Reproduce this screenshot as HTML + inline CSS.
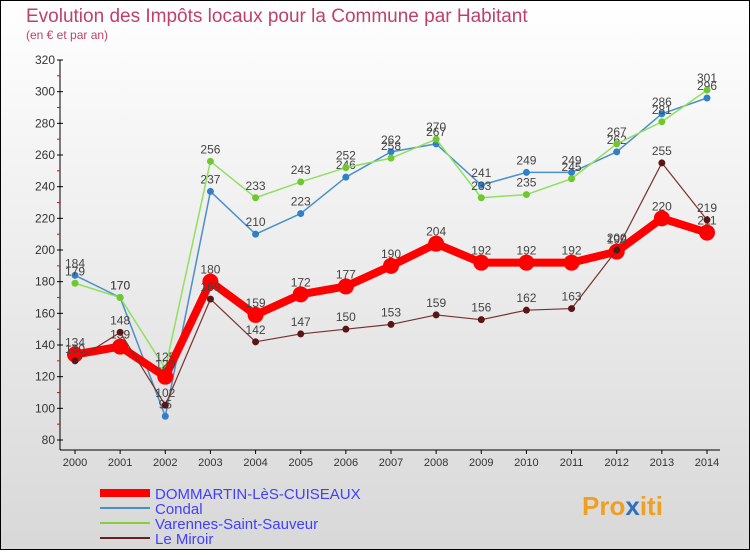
<!DOCTYPE html>
<html><head><meta charset="utf-8"><style>
body{margin:0;width:750px;height:550px;overflow:hidden;font-family:"Liberation Sans",sans-serif}
svg text{font-family:"Liberation Sans",sans-serif}
</style></head><body>
<svg id="c" width="750" height="550" xmlns="http://www.w3.org/2000/svg">
<defs><linearGradient id="bg" x1="0" y1="0" x2="0" y2="1"><stop offset="0" stop-color="#ffffff"/><stop offset="1" stop-color="#d8d8d8"/></linearGradient></defs>
<rect x="0.5" y="0.5" width="749" height="549" fill="url(#bg)" stroke="#000"/>
<text x="26" y="22" font-size="19" fill="#c0406a">Evolution des Impôts locaux pour la Commune par Habitant</text>
<text x="26" y="39" font-size="12" fill="#c0406a">(en € et par an)</text>
<g id="axes"></g><g id="series"></g>
<g>
<line x1="100" y1="493" x2="150" y2="493" stroke="#f00" stroke-width="8"/>
<text x="155" y="499" font-size="15" fill="#4040ff">DOMMARTIN-LèS-CUISEAUX</text>
<line x1="100" y1="508" x2="150" y2="508" stroke="#4a90c8" stroke-width="2"/>
<text x="155" y="514" font-size="15" fill="#4040ff">Condal</text>
<line x1="100" y1="523" x2="150" y2="523" stroke="#80d040" stroke-width="2"/>
<text x="155" y="529" font-size="15" fill="#4040ff">Varennes-Saint-Sauveur</text>
<line x1="100" y1="538" x2="150" y2="538" stroke="#6a2020" stroke-width="2"/>
<text x="155" y="544" font-size="15" fill="#4040ff">Le Miroir</text>
</g>
<text x="582" y="515" font-size="26" font-weight="bold" fill="#f0a020">Pro<tspan fill="#3070c0">x</tspan>iti</text>
</svg>
<script>
const years=[2000,2001,2002,2003,2004,2005,2006,2007,2008,2009,2010,2011,2012,2013,2014];
const dommartin=[134,139,120,180,159,172,177,190,204,192,192,192,199,220,211];
const condal=[184,170,95,237,210,223,246,262,267,241,249,249,262,286,296];
const varennes=[179,170,125,256,233,243,252,258,270,233,235,245,267,281,301];
const miroir=[130,148,102,169,142,147,150,153,159,156,162,163,200,255,219];
const yTicks=[80,100,120,140,160,180,200,220,240,260,280,300,320];
const NS="http://www.w3.org/2000/svg";
const X=i=>75+i*(707-75)/14, Y=v=>440-(v-80)*(380/240);
function mk(t,a,p){const e=document.createElementNS(NS,t);for(const k in a)e.setAttribute(k,a[k]);p.appendChild(e);return e;}
const ax=document.getElementById('axes'),sg=document.getElementById('series');
let l=mk('line',{x1:60,y1:60,x2:60,y2:450,stroke:'#000'},ax);

l=mk('line',{x1:60,y1:450,x2:720,y2:450,stroke:'#000'},ax);

yTicks.forEach((v,i)=>{mk('line',{x1:57,y1:Y(v),x2:63,y2:Y(v),stroke:'#000'},ax);
 if(i<yTicks.length-1)mk('line',{x1:57,y1:Y(v+10),x2:60,y2:Y(v+10),stroke:'#f00'},ax);
 const t=mk('text',{x:55,y:Y(v)+4,'font-size':12,'text-anchor':'end',fill:'#333'},ax);t.textContent=v;
 });
years.forEach((y,i)=>{mk('line',{x1:X(i),y1:450,x2:X(i),y2:454,stroke:'#000'},ax);
 const t=mk('text',{x:X(i),y:466,'font-size':11,'text-anchor':'middle',fill:'#333'},ax);t.textContent=y;
 });
function series(d,col,w,r,name,dot){const g=mk('g',{},sg);
 
 mk('polyline',{points:d.map((v,i)=>X(i)+','+Y(v)).join(' '),fill:'none',stroke:col,'stroke-width':w,'stroke-linejoin':'round'},g);
 d.forEach((v,i)=>{const c=mk('circle',{cx:X(i),cy:Y(v),r:r,fill:dot||col},g);
  
  const t=mk('text',{x:X(i),y:Y(v)-8,'font-size':12,'text-anchor':'middle',fill:'#444'},g);t.textContent=v;
  });}
series(condal,'#4a90c8',1.5,3.5,'condal','#3080c8');
series(varennes,'#90e060',1.5,3.5,'varennes','#70c830');
series(dommartin,'#f00',8,8,'dommartin');
series(miroir,'#7a3030',1.2,3.5,'miroir','#5a1515');
</script>
</body></html>
